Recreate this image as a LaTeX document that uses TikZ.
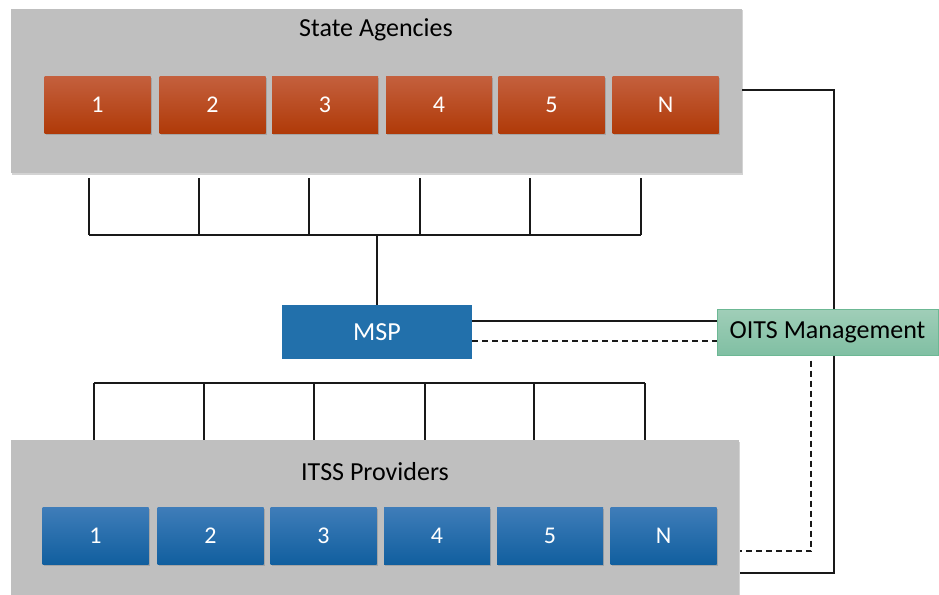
\documentclass[tikz,border=0pt]{standalone}
\usepackage{fontspec}
\setmainfont{Carlito}[Numbers=Lining]
\usetikzlibrary{shadows}
\definecolor{panelgray}{HTML}{BFBFBF}
\definecolor{redtop}{HTML}{C4603E}
\definecolor{redbot}{HTML}{B03A08}
\definecolor{bluetop}{HTML}{3F7DB9}
\definecolor{bluebot}{HTML}{115F9F}
\definecolor{mspblue}{HTML}{2270AB}
\definecolor{greentop}{HTML}{A0CEB8}
\definecolor{greenbot}{HTML}{80BFA3}
\definecolor{greenedge}{HTML}{6CB894}
\newcommand\cellfont{\fontsize{24}{28}\selectfont}
\tikzset{
  panel/.style={fill=panelgray, draw=none, drop shadow={opacity=0.35, shadow xshift=1pt, shadow yshift=-1.5pt}},
  cellbox/.style={draw=none, minimum width=106pt, minimum height=57pt, text=white, drop shadow={opacity=0.4, shadow xshift=1pt, shadow yshift=-1.5pt}},
  redbox/.style={cellbox, top color=redtop, bottom color=redbot},
  bluebox/.style={cellbox, top color=bluetop, bottom color=bluebot},
  title/.style={font=\fontsize{26}{30}\selectfont, text=black},
  wire/.style={draw=black!90, line width=1.6pt},
  dwire/.style={draw=black!90, line width=1.6pt, dash pattern=on 6pt off 4pt},
}
\begin{document}
\begin{tikzpicture}[x=1pt,y=-1pt]
\useasboundingbox (0,0) rectangle (939,594);
% panels
\fill[panel] (11,9) rectangle (742,173);
\fill[panel] (11,440) rectangle (739,610);
\node[title] (sa) at (376,30) {State Agencies};
\node[title] (itss) at (375,472) {ITSS Providers};
% red boxes
\node[redbox] (r1) at (97.5,104.5) {\cellfont 1};
\node[redbox] (r2) at (212.5,104.5) {\cellfont 2};
\node[redbox] (r3) at (325,104.5) {\cellfont 3};
\node[redbox] (r4) at (439,104.5) {\cellfont 4};
\node[redbox] (r5) at (551.5,104.5) {\cellfont 5};
\node[redbox] (rN) at (665.5,104.5) {\cellfont N};
% blue boxes
\node[bluebox] (b1) at (95.5,535.5) {\cellfont 1};
\node[bluebox] (b2) at (210.5,535.5) {\cellfont 2};
\node[bluebox] (b3) at (323.5,535.5) {\cellfont 3};
\node[bluebox] (b4) at (437,535.5) {\cellfont 4};
\node[bluebox] (b5) at (550,535.5) {\cellfont 5};
\node[bluebox] (bN) at (663.5,535.5) {\cellfont N};
% bus top
\foreach \i/\x in {1/89,2/199,3/309,4/420,5/530,6/641}{
  \coordinate (ta\i) at (\x,178);
  \coordinate (tb\i) at (\x,235);
  \draw[wire] (ta\i) -- (tb\i);
}
\draw[wire] (tb1) -- (tb6);
\coordinate (tmid) at (377,235);
% bus bottom
\foreach \i/\x in {1/94,2/204,3/314,4/425,5/534,6/645}{
  \coordinate (ba\i) at (\x,383);
  \coordinate (bb\i) at (\x,440);
  \draw[wire] (ba\i) -- (bb\i);
}
\draw[wire] (ba1) -- (ba6);
% right side lines
\coordinate (tr0) at (742,90);
\coordinate (tr1) at (834,90);
\coordinate (br1) at (834,573);
\coordinate (br0) at (740,573);
\draw[wire] (tr0) -- (tr1) -- (br1) -- (br0);
% MSP and OITS
\node[fill=mspblue, minimum width=190pt, minimum height=54pt, text=white, font=\fontsize{26}{30}\selectfont] (msp) at (377,332) {MSP};
\draw[wire] (tmid) -- (msp.north);
\node[draw=greenedge, line width=1pt, top color=greentop, bottom color=greenbot, minimum width=221pt, minimum height=46pt, font=\fontsize{26}{30}\selectfont] (oits) at (827.5,332) {OITS Management};
\draw[wire] (msp.east |- 0,321) -- (oits.west |- 0,321);
\draw[dwire] (msp.east |- 0,341) -- (oits.west |- 0,341);
\coordinate (dc0) at (811,551);
\coordinate (dc1) at (740,551);
\draw[dwire] (oits.south -| dc0) ++(0,5) -- (dc0) -- (dc1);
\end{tikzpicture}
\end{document}
